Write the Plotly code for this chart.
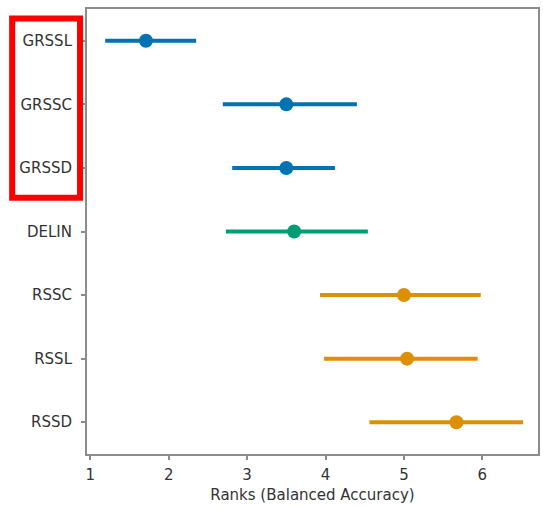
import plotly.graph_objects as go

methods = ["GRSSL", "GRSSC", "GRSSD", "DELIN", "RSSC", "RSSL", "RSSD"]
mean_rank = [1.71, 3.50, 3.50, 3.60, 5.00, 5.04, 5.67]
low_rank = [1.19, 2.69, 2.81, 2.73, 3.93, 3.98, 4.56]
high_rank = [2.35, 4.40, 4.12, 4.54, 5.98, 5.94, 6.52]
group = ["GR", "GR", "GR", "DE", "RS", "RS", "RS"]
group_colors = {"GR": "#0173b2", "DE": "#029e73", "RS": "#de8f05"}

fig = go.Figure()
for g in ["GR", "DE", "RS"]:
    idx = [i for i, v in enumerate(group) if v == g]
    fig.add_trace(go.Scatter(
        x=[mean_rank[i] for i in idx],
        y=[methods[i] for i in idx],
        mode="markers",
        marker=dict(size=14, color=group_colors[g]),
        error_x=dict(
            type="data", symmetric=False,
            array=[high_rank[i] - mean_rank[i] for i in idx],
            arrayminus=[mean_rank[i] - low_rank[i] for i in idx],
            thickness=4, width=0, color=group_colors[g],
        ),
        showlegend=False,
    ))

axis_common = dict(
    showline=True, linecolor="#8c8c8c", linewidth=2, mirror=True,
    ticks="outside", ticklen=4, tickcolor="#8c8c8c", tickwidth=1.5,
    showgrid=False, zeroline=False,
    tickfont=dict(family="DejaVu Sans", size=15, color="#333333"),
)

fig.update_layout(
    width=543, height=508,
    margin=dict(l=87, r=3, t=9, b=54),
    paper_bgcolor="white", plot_bgcolor="white",
    xaxis=dict(
        range=[0.958, 6.71], tickvals=[1, 2, 3, 4, 5, 6],
        ticklabelstandoff=2,
        title=dict(text="Ranks (Balanced Accuracy)", standoff=6,
                   font=dict(family="DejaVu Sans", size=15, color="#333333")),
        **axis_common,
    ),
    yaxis=dict(
        type="category", categoryorder="array", categoryarray=methods,
        range=[6.5, -0.5], ticklabelstandoff=6,
        **axis_common,
    ),
    shapes=[dict(
        type="rect", xref="paper", yref="y",
        x0=-0.166, x1=-0.0155, y0=-0.35, y1=2.47,
        line=dict(color="#ff0000", width=6), fillcolor="rgba(0,0,0,0)",
        layer="above",
    )],
)

fig.write_html("out.html")
